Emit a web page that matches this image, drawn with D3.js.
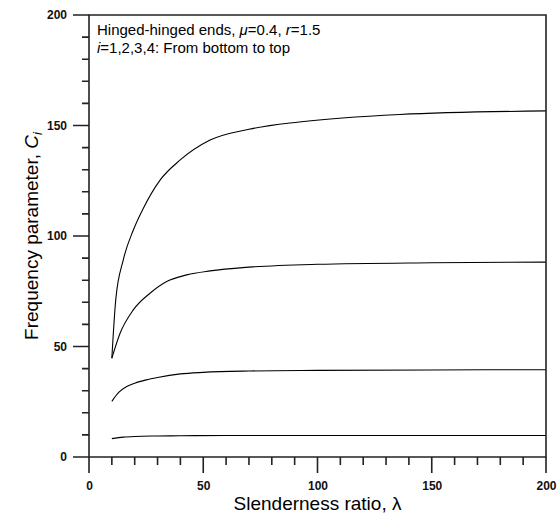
<!DOCTYPE html>
<html>
<head>
<meta charset="utf-8">
<script src="https://cdn.jsdelivr.net/npm/d3@7"></script>
<style>
  body { margin: 0; background: #fff; }
</style>
</head>
<body>
<div id="chart"></div>
<script>
// slenderness ratio values where curves were read
const lambda1 = [10, 15, 20, 30, 40, 60, 80, 100, 150, 200];
const mode1 = [8.3, 9.0, 9.3, 9.5, 9.6, 9.7, 9.7, 9.7, 9.7, 9.7];

const lambda2 = [10, 13, 16.5, 20, 25, 30, 40, 50, 70, 100, 150, 200];
const mode2 = [25.2, 29.2, 31.9, 33.4, 34.9, 36.0, 37.6, 38.3, 38.9, 39.2, 39.4, 39.5];

const lambda3 = [10, 13.6, 19.4, 26.7, 34, 42.8, 53, 70, 100, 150, 200];
const mode3 = [44.7, 56, 66.6, 74.1, 79.4, 82.4, 84.2, 85.9, 87.2, 87.9, 88.2];

const lambda4 = [10, 11.7, 15, 19.4, 23.8, 31.1, 39.8, 53, 70, 92, 136, 200];
const mode4 = [44.7, 71.1, 89.2, 102.7, 112.6, 125.3, 134.3, 143.4, 148.3, 151.6, 155.0, 156.6];

const xTicks = [0, 50, 100, 150, 200];
const yTicks = [0, 50, 100, 150, 200];
const minorTicks = d3.range(0, 201, 10);

const width = 558;
const height = 516;
const margin = { top: 15, right: 12, bottom: 59, left: 89 };
const font = "Arial, 'Liberation Sans', sans-serif";

const x = d3.scaleLinear().domain([0, 200]).range([margin.left, width - margin.right]);
const y = d3.scaleLinear().domain([0, 200]).range([height - margin.bottom, margin.top]);

const svg = d3.create("svg")
    .attr("width", width)
    .attr("height", height)
    .attr("font-family", font);

// curves
const line = d3.line()
    .x(d => x(d[0]))
    .y(d => y(d[1]))
    .curve(d3.curveMonotoneX);

const series = [
    [lambda1, mode1],
    [lambda2, mode2],
    [lambda3, mode3],
    [lambda4, mode4],
];

svg.append("g")
    .selectAll("path")
    .data(series)
    .join("path")
    .attr("d", ([ls, vs]) => line(ls.map((l, i) => [l, vs[i]])))
    .attr("fill", "none")
    .attr("stroke", "#000")
    .attr("stroke-width", 1.1);

// frame box
svg.append("path")
    .attr("d", `M${x(0)},${y(200)}H${x(200)}V${y(0)}H${x(0)}Z`)
    .attr("fill", "none")
    .attr("stroke", "#222")
    .attr("stroke-width", 1.6);

// tick marks from the scales
const tickPath = [
    ...yTicks.map(v => `M${x(0)},${y(v)}h-16`),
    ...minorTicks.map(v => `M${x(0)},${y(v)}h-7`),
    ...xTicks.map(v => `M${x(v)},${y(0)}v16`),
    ...minorTicks.map(v => `M${x(v)},${y(0)}v8`),
].join("");

svg.append("path")
    .attr("d", tickPath)
    .attr("fill", "none")
    .attr("stroke", "#222")
    .attr("stroke-width", 1.6);

// tick labels
function styleLabels(g) {
    g.select(".domain").remove();
    g.selectAll(".tick line").remove();
    g.selectAll("text")
        .attr("font-size", 12)
        .attr("font-weight", "bold")
        .attr("font-family", font)
        .attr("fill", "#111");
}

svg.append("g")
    .attr("transform", `translate(${x(0)},0)`)
    .call(d3.axisLeft(y).tickValues(yTicks).tickSize(0).tickPadding(22))
    .call(styleLabels);

svg.append("g")
    .attr("transform", `translate(0,${y(0)})`)
    .call(d3.axisBottom(x).tickValues(xTicks).tickSize(0).tickPadding(24))
    .call(styleLabels);

// annotation
const note = svg.append("text")
    .attr("x", 97)
    .attr("y", 35)
    .attr("font-size", 15)
    .attr("fill", "#000");
note.append("tspan").text("Hinged-hinged ends, ");
note.append("tspan").attr("font-style", "italic").text("μ");
note.append("tspan").text("=0.4, ");
note.append("tspan").attr("font-style", "italic").text("r");
note.append("tspan").text("=1.5");

const note2 = svg.append("text")
    .attr("x", 97)
    .attr("y", 53)
    .attr("font-size", 15)
    .attr("fill", "#000");
note2.append("tspan").attr("font-style", "italic").text("i");
note2.append("tspan").text("=1,2,3,4: From bottom to top");

// axis titles
svg.append("text")
    .attr("x", (x(0) + x(200)) / 2)
    .attr("y", 510)
    .attr("text-anchor", "middle")
    .attr("font-size", 19)
    .text("Slenderness ratio, λ");

const yTitle = svg.append("text")
    .attr("transform", `translate(38,${(y(0) + y(200)) / 2}) rotate(-90)`)
    .attr("text-anchor", "middle")
    .attr("font-size", 19);
yTitle.append("tspan").text("Frequency parameter, ");
yTitle.append("tspan").attr("font-style", "italic").text("C");
yTitle.append("tspan").attr("font-style", "italic").attr("font-size", 13).attr("dy", 4).text("i");

d3.select("#chart").node().append(svg.node());
</script>
</body>
</html>
